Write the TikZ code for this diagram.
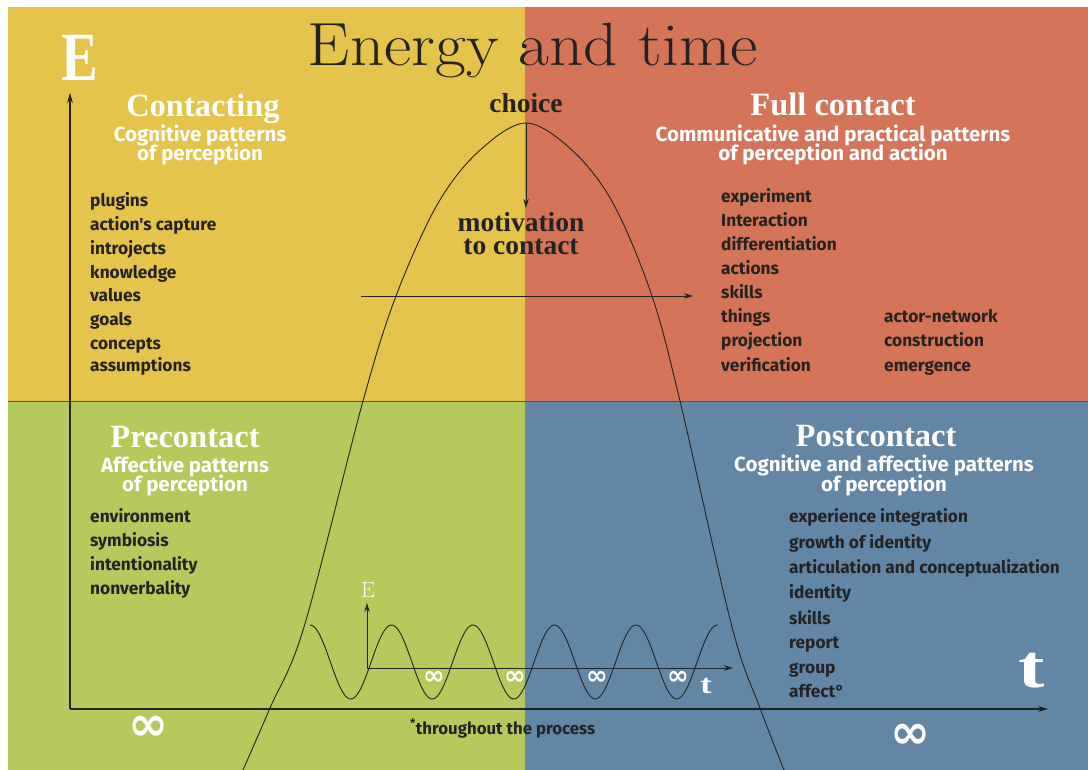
\documentclass[tikz,border=0pt]{standalone}
\usepackage{fontspec}
\newfontfamily\fira{Fira Sans}
\newfontfamily\dejavu{DejaVu Sans}
\newfontfamily\libser{Liberation Serif}
\usetikzlibrary{arrows.meta}
\definecolor{qyellow}{HTML}{E4C44A}
\definecolor{qred}{HTML}{D47458}
\definecolor{qgreen}{HTML}{B5C95D}
\definecolor{qblue}{HTML}{6486A5}
\definecolor{ink}{HTML}{232323}
\begin{document}
\begin{tikzpicture}[x=1pt,y=-1pt,
  head/.style={font=\libser\bfseries\fontsize{32.5}{32.5}\selectfont, text=white, anchor=base, inner sep=0pt},
  subhead/.style={font=\fira\bfseries\fontsize{20.5}{20.5}\selectfont, text=white, anchor=base, inner sep=0pt},
  item/.style={font=\fira\bfseries\fontsize{17.3}{17.3}\selectfont, text=ink, anchor=base west, inner sep=0pt},
  dark/.style={font=\libser\bfseries\fontsize{27.5}{23}\selectfont, text=ink, inner sep=0pt},
  inf/.style={font=\dejavu\bfseries\fontsize{48}{48}\selectfont, text=white, inner sep=0pt},
  sinf/.style={font=\dejavu\bfseries\fontsize{26}{26}\selectfont, text=white, inner sep=0pt},
  axis/.style={draw=ink, line width=1.3pt, -{Stealth[length=10pt,width=6pt]}},
  thinarr/.style={draw=ink, line width=0.9pt, -{Stealth[length=9pt,width=5.5pt]}},
  curve/.style={draw=ink, line width=0.9pt}
]
\useasboundingbox (0,0) rectangle (1088,770);
\fill[white] (0,0) rectangle (1088,770);
% quadrants
\fill[qyellow] (8,7) rectangle (525,401);
\fill[qred] (525,7) rectangle (1088,401);
\fill[qgreen] (8,401) rectangle (525,770);
\fill[qblue] (525,401) rectangle (1088,770);
\draw[ink!80, line width=0.9pt] (8,401) -- (1088,401);

% title
\node[font=\fontsize{61}{61}\selectfont, text=ink, anchor=base, inner sep=0pt, xscale=1.1] (title) at (533,66) {Energy and time};

% big axis labels
\node[font=\libser\bfseries\fontsize{69}{69}\selectfont, text=white, anchor=base, inner sep=0pt, xscale=0.8] (bigE) at (80,81) {E};
\node[font=\libser\bfseries\fontsize{61}{61}\selectfont, text=white, anchor=base, inner sep=0pt, xscale=1.3] (bigt) at (1032,687) {t};
\node[inf] (infL) at (148.5,728) {∞};
\node[inf] (infR) at (910,736) {∞};

% main axes
\coordinate (O) at (70,709);
\coordinate (Etip) at (70,93);
\coordinate (ttip) at (1048,709);
\draw[axis] (O) -- (Etip);
\draw[axis] (O) -- (ttip);

% Contacting
\node[head] (contacting) at (203,117) {Contacting};
\node[subhead] (contsubA) at (200,142) {Cognitive patterns};
\node[subhead] (contsubB) at (200,161) {of perception};
\node[item] (c1) at (90,207) {plugins};
\node[item] (c2) at (90,231) {action's capture};
\node[item] (c3) at (90,255) {introjects};
\node[item] (c4) at (90,279) {knowledge};
\node[item] (c5) at (90,302) {values};
\node[item] (c6) at (90,326) {goals};
\node[item] (c7) at (90,349) {concepts};
\node[item] (c8) at (90,371) {assumptions};

% Full contact
\node[head] (full) at (833,116) {Full contact};
\node[subhead] (fullsubA) at (833,142) {Communicative and practical patterns};
\node[subhead] (fullsubB) at (833,161) {of perception and action};
\node[item] (f1) at (721,203) {experiment};
\node[item] (f2) at (721,227) {Interaction};
\node[item] (f3) at (721,251) {differentiation};
\node[item] (f4) at (721,275) {actions};
\node[item] (f5) at (721,299) {skills};
\node[item] (f6) at (721,323) {things};
\node[item] (f7) at (721,347) {projection};
\node[item] (f8) at (721,371) {verification};
\node[item] (g1) at (884,323) {actor-network};
\node[item] (g2) at (884,347) {construction};
\node[item] (g3) at (884,371) {emergence};

% Precontact
\node[head] (pre) at (185,447) {Precontact};
\node[subhead] (presubA) at (185,472) {Affective patterns};
\node[subhead] (presubB) at (185,491) {of perception};
\node[item] (p1) at (90,522) {environment};
\node[item] (p2) at (90,546) {symbiosis};
\node[item] (p3) at (90,570) {intentionality};
\node[item] (p4) at (90,594) {nonverbality};

% Postcontact
\node[head] (post) at (876,446) {Postcontact};
\node[subhead] (postsubA) at (884,471) {Cognitive and affective patterns};
\node[subhead] (postsubB) at (884,491) {of perception};
\node[item] (q1) at (789,522) {experience integration};
\node[item] (q2) at (789,548) {growth of identity};
\node[item] (q3) at (789,573) {articulation and conceptualization};
\node[item] (q4) at (789,598) {identity};
\node[item] (q5) at (789,624) {skills};
\node[item] (q6) at (789,648) {report};
\node[item] (q7) at (789,673) {group};
\node[item] (q8) at (789,697) {affect°};

% choice & motivation
\node[dark, anchor=base] (choice) at (526,113) {choice};
\node[dark, anchor=north, align=center] (motiv) at (521,212.5) {motivation\\to contact};

% bell curve
\draw[curve] plot[smooth, tension=0.55] coordinates {(243,770) (270,708) (304,627) (363,401) (396,296) (437,205) (478,152) (526,123) (574,152) (614,205) (652,296) (680,401) (732,627) (760,708) (784,770)};

% arrows in the upper part
\coordinate (peak) at (526,123);
\coordinate (mtip) at (526,208);
\draw[thinarr] (peak) -- (mtip);
\coordinate (hA) at (361,296);
\coordinate (hB) at (693,296);
\draw[thinarr] (hA) -- (hB);

% small wave system
\draw[curve] plot[domain=310:717.5, samples=220, smooth] (\x, {662-37*cos((\x-310)*4.4172)});
\coordinate (o2) at (367,668);
\coordinate (E2tip) at (367,603);
\coordinate (t2tip) at (733,668);
\draw[thinarr] (o2) -- (E2tip);
\draw[thinarr] (o2) -- (t2tip);
\node[font=\fontsize{22}{22}\selectfont, text=white, anchor=base, inner sep=0pt] (smallE) at (368,597) {E};
\node[font=\libser\bfseries\fontsize{27}{27}\selectfont, text=white, anchor=base, inner sep=0pt, xscale=1.25] (smallt) at (706,693) {t};
\node[sinf] (i1) at (434,677.5) {∞};
\node[sinf] (i2) at (515,677.5) {∞};
\node[sinf] (i3) at (597,677.5) {∞};
\node[sinf] (i4) at (678,677.5) {∞};

% footnote
\node[font=\fira\bfseries\fontsize{16.8}{16.8}\selectfont, text=ink, anchor=base west, inner sep=0pt] (foot) at (410,734) {\textsuperscript{*}throughout the process};
\end{tikzpicture}
\end{document}
